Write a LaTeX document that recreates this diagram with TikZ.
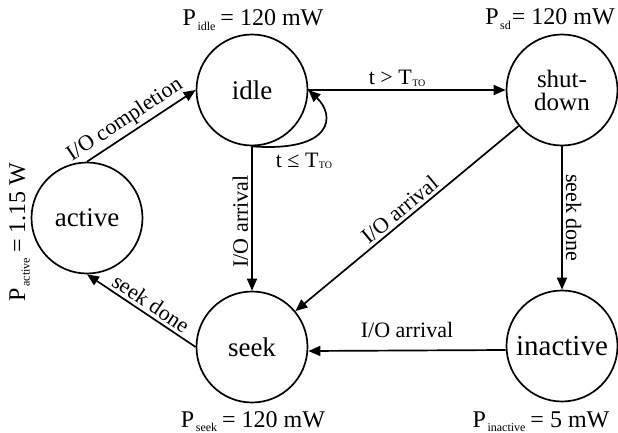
\documentclass[tikz,border=0pt]{standalone}
\usepackage{fontspec}
\setmainfont{Liberation Serif}
\usetikzlibrary{arrows.meta}
\newcommand\lowsub[1]{\kern1.5pt\raisebox{-4.5pt}{\fontsize{12}{12}\selectfont #1}\kern1pt}
\newcommand\tsub[1]{\kern0.5pt\raisebox{-1.5pt}{\fontsize{10}{10}\selectfont #1}}
\begin{document}
\begin{tikzpicture}[x=1pt,y=-1pt,
  state/.style={circle,draw,line width=1.7pt,minimum size=111pt,inner sep=0pt,font=\fontsize{27}{27}\selectfont},
  arr/.style={line width=1.7pt,-{Triangle[length=12pt,width=10pt]}},
  elabel/.style={font=\fontsize{22}{22}\selectfont,inner sep=3pt},
  plabel/.style={font=\fontsize{24}{24}\selectfont,anchor=base,inner sep=0pt}]
\useasboundingbox (0,0) rectangle (618,433);
% states
\node[state] (idle) at (252,90) {idle};
\node[state,font=\fontsize{25}{23}\selectfont,align=center] (sd) at (562,90) {shut-\\down};
\node[state] (active) at (87,218) {active};
\node[state] (seek) at (252,347) {seek};
\node[state,font=\fontsize{29}{29}\selectfont] (inactive) at (562,346) {inactive};
% power labels
\node[plabel] (pidle) at (253,26) {P\lowsub{idle}\kern4pt= 120 mW};
\node[plabel] (psd) at (550,25) {P\lowsub{sd}= 120 mW};
\node[plabel] (pseek) at (253,427) {P\lowsub{seek}\kern4pt= 120 mW};
\node[plabel] (pinactive) at (541,427) {P\lowsub{inactive}\kern4pt= 5 mW};
\node[plabel,rotate=90] (pactive) at (25,232) {P\lowsub{active}\kern4pt= 1.15 W};
% transitions
\draw[arr] (active.north) -- node[elabel,sloped,above,pos=0.42] {I/O completion} (idle.west);
\draw[arr] (seek.west) -- node[elabel,sloped,above,pos=0.47] {seek done} (active.south);
\draw[arr] (idle.south) -- node[elabel,rotate=90,anchor=south,pos=0.52] {I/O arrival} (seek.north);
\draw[arr] (idle.east) -- node[elabel,above,pos=0.45] {t > T\tsub{TO}} (sd.west);
\draw[arr] (idle.south) .. controls +(82,6) and +(27,25) .. (idle.east);
\node[elabel] (tle) at (304,161) {t ≤ T\tsub{TO}};
\draw[arr] (sd) -- node[elabel,sloped,above,pos=0.5] {I/O arrival} (seek);
\draw[arr] (sd.south) -- node[elabel,rotate=-90,anchor=south] {seek done} (inactive.north);
\draw[arr] ([yshift=-4pt]inactive.west) -- node[elabel,above=9pt] {I/O arrival} ([yshift=-4pt]seek.east);
\end{tikzpicture}
\end{document}
